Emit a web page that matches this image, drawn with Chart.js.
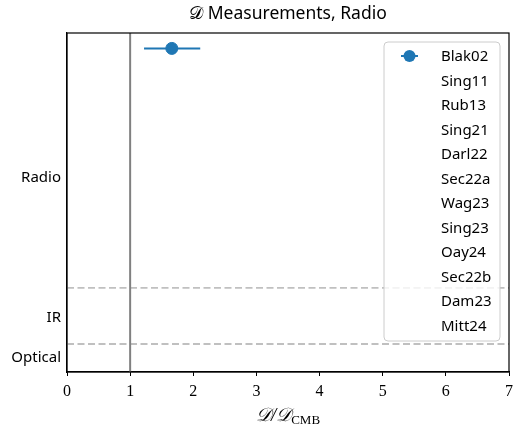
<!DOCTYPE html>
<html>
<head>
<meta charset="utf-8">
<script src="https://cdn.jsdelivr.net/npm/chart.js@4"></script>
<style>
  body { margin: 0; background: #fff; }
</style>
</head>
<body>
<canvas id="dChart" width="513" height="426"></canvas>
<script>
// measurement names (legend order)
const refs = ['Blak02', 'Sing11', 'Rub13', 'Sing21', 'Darl22', 'Sec22a',
              'Wag23', 'Sing23', 'Oay24', 'Sec22b', 'Dam23', 'Mitt24'];
// D / D_CMB values, only Blak02 is drawn in the Radio panel
const values = [1.66];
const errLow = [0.44];
const errHigh = [0.45];
const rows = [0];
// band labels on the y axis and where they sit
const bands = ['Radio', 'IR', 'Optical'];
const bandTicks = [4.6, 9.6, 11.05];
const bandEdges = [8.55, 10.55];
const xTicks = [0, 1, 2, 3, 4, 5, 6, 7];

const blue = '#1f77b4';
const sans = '"Noto Sans", "DejaVu Sans", sans-serif';
const serif = '"Liberation Serif", "DejaVu Serif", serif';

const datasets = refs.map((name, i) => ({
    label: name,
    data: i === 0 ? values.map((v, j) => ({ x: v, y: rows[j], lo: v - errLow[j], hi: v + errHigh[j] })) : [],
    backgroundColor: blue,
    borderColor: blue,
    pointRadius: 6,
    pointHoverRadius: 6,
    showLine: false
}));

const decor = {
    id: 'decor',
    beforeDatasetsDraw(chart) {
        const { ctx, chartArea: a, scales: { x, y } } = chart;
        ctx.save();
        // dashed band separators
        ctx.strokeStyle = '#c0c0c0';
        ctx.lineWidth = 1.8;
        ctx.setLineDash([7, 3.5]);
        bandEdges.forEach(v => {
            const py = y.getPixelForValue(v);
            ctx.beginPath();
            ctx.moveTo(a.left, py);
            ctx.lineTo(a.right, py);
            ctx.stroke();
        });
        ctx.setLineDash([]);
        // reference line at D = D_CMB
        const px = x.getPixelForValue(1);
        ctx.strokeStyle = '#808080';
        ctx.lineWidth = 2;
        ctx.beginPath();
        ctx.moveTo(px, a.top);
        ctx.lineTo(px, a.bottom);
        ctx.stroke();
        // error bars
        chart.data.datasets.forEach(ds => {
            ds.data.forEach(p => {
                const py = y.getPixelForValue(p.y);
                ctx.strokeStyle = ds.borderColor;
                ctx.lineWidth = 2;
                ctx.beginPath();
                ctx.moveTo(x.getPixelForValue(p.lo), py);
                ctx.lineTo(x.getPixelForValue(p.hi), py);
                ctx.stroke();
            });
        });
        ctx.restore();
    },
    afterDraw(chart) {
        const { ctx, chartArea: a } = chart;
        ctx.save();
        // frame
        ctx.strokeStyle = '#000';
        ctx.lineWidth = 1.2;
        ctx.strokeRect(a.left, a.top, a.right - a.left, a.bottom - a.top);

        // legend
        const lx = 384, ly = 42, lw = 116, lh = 299, r = 4;
        ctx.fillStyle = 'rgba(255,255,255,0.8)';
        ctx.strokeStyle = '#cccccc';
        ctx.lineWidth = 1;
        ctx.beginPath();
        ctx.roundRect(lx, ly, lw, lh, r);
        ctx.fill();
        ctx.stroke();
        ctx.font = '15px ' + sans;
        ctx.textBaseline = 'middle';
        ctx.textAlign = 'left';
        chart.data.datasets.forEach((ds, i) => {
            const ty = 56 + i * 24.5;
            if (ds.data.length) {
                ctx.strokeStyle = ds.borderColor;
                ctx.lineWidth = 2;
                ctx.beginPath();
                ctx.moveTo(401, ty);
                ctx.lineTo(418, ty);
                ctx.stroke();
                ctx.fillStyle = ds.backgroundColor;
                ctx.beginPath();
                ctx.arc(409.5, ty, 6, 0, Math.PI * 2);
                ctx.fill();
            }
            ctx.fillStyle = '#000';
            ctx.fillText(ds.label, 441, ty + 1);
        });

        // x axis title D / D_CMB
        const cx = (a.left + a.right) / 2;
        const main = '\u{1D49F}/\u{1D49F}';
        ctx.font = 'italic 19px ' + serif;
        const w1 = ctx.measureText(main).width;
        ctx.font = '13px ' + serif;
        const w2 = ctx.measureText('CMB').width;
        let sx = cx - (w1 + w2) / 2;
        ctx.fillStyle = '#000';
        ctx.textBaseline = 'alphabetic';
        ctx.font = 'italic 19px ' + serif;
        ctx.fillText(main, sx, 421);
        ctx.font = '13px ' + serif;
        ctx.fillText('CMB', sx + w1, 424);
        ctx.restore();
    }
};

new Chart(document.getElementById('dChart'), {
    type: 'scatter',
    data: { datasets },
    options: {
        responsive: false,
        animation: false,
        layout: { autoPadding: false, padding: { left: 0, right: 4, top: 0, bottom: 0 } },
        plugins: {
            legend: { display: false },
            tooltip: { enabled: false },
            title: {
                display: true,
                fullSize: false,
                text: '\u{1D49F} Measurements, Radio',
                color: '#000',
                font: { family: sans, size: 17.5, weight: 'normal' },
                padding: { top: 4, bottom: 8 }
            }
        },
        scales: {
            x: {
                type: 'linear',
                min: 0,
                max: 7,
                afterBuildTicks: s => { s.ticks = xTicks.map(v => ({ value: v })); },
                afterFit: s => { s.height = 54; s.paddingLeft = 0; s.paddingRight = 0; },
                ticks: { color: '#000', font: { family: serif, size: 16 }, padding: 6 },
                grid: { drawOnChartArea: false, drawTicks: true, tickLength: 4, color: '#000', lineWidth: 1 },
                border: { display: true, color: '#000', width: 1.2 }
            },
            y: {
                type: 'linear',
                reverse: true,
                min: -0.55,
                max: 11.55,
                afterBuildTicks: s => { s.ticks = bandTicks.map(v => ({ value: v })); },
                afterFit: s => { s.width = 67; },
                ticks: {
                    color: '#000',
                    font: { family: sans, size: 15 },
                    padding: 6,
                    callback: v => bands[bandTicks.indexOf(v)]
                },
                grid: { drawOnChartArea: false, drawTicks: false },
                border: { display: true, color: '#000', width: 1.2 }
            }
        }
    },
    plugins: [decor]
});
</script>
</body>
</html>
